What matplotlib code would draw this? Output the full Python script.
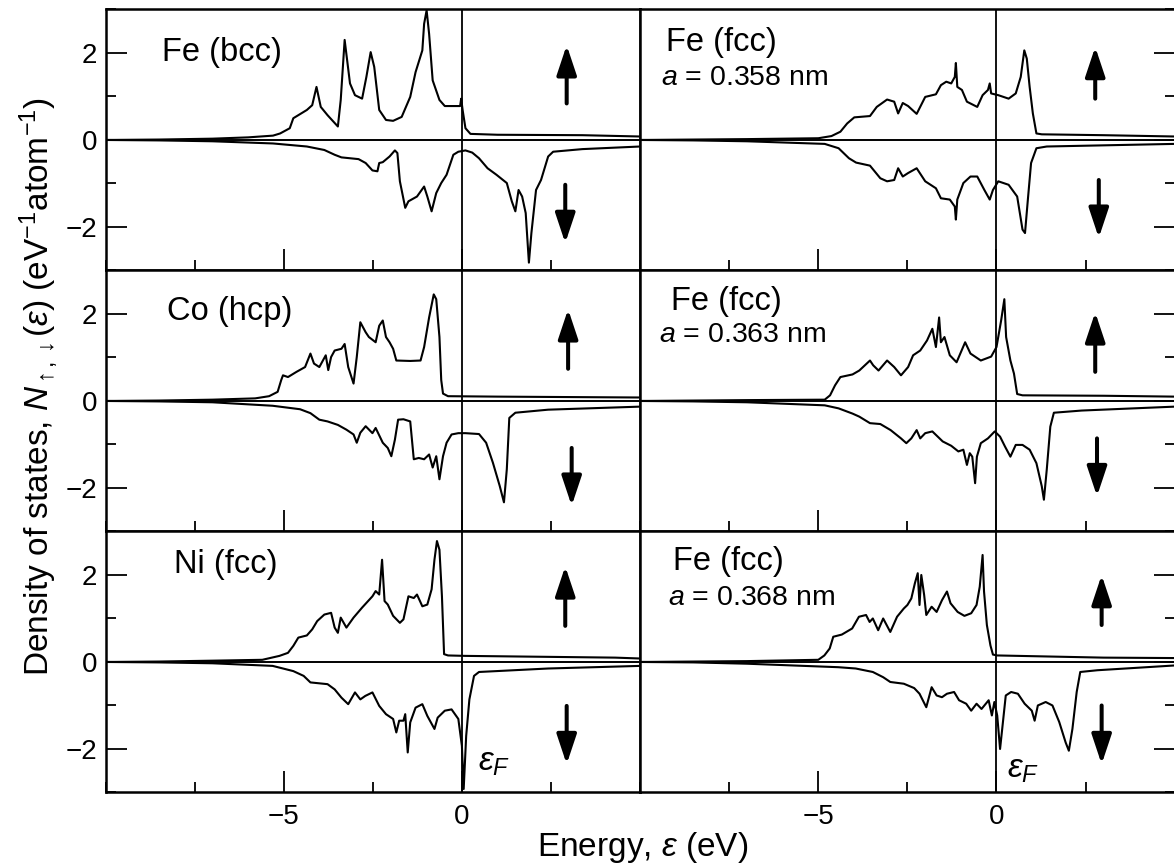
import matplotlib
matplotlib.use("Agg")
import matplotlib.pyplot as plt
from matplotlib.patches import FancyArrowPatch
from matplotlib.ticker import MultipleLocator

plt.rcParams['font.family'] = ['Liberation Sans', 'DejaVu Sans']
plt.rcParams['mathtext.fontset'] = 'custom'
plt.rcParams['mathtext.rm'] = 'Liberation Sans'
plt.rcParams['mathtext.it'] = 'Liberation Sans:italic'
plt.rcParams['mathtext.bf'] = 'Liberation Sans:bold'

# ---------------- data (energy in eV, DOS in states/eV/atom) ----------------
fe_bcc_up_e = [-10, -8.5, -7.0, -6.0, -5.3, -5.1, -4.83, -4.73, -4.35, -4.2, -4.08, -3.96, -3.77, -3.48, -3.4, -3.29,
               -3.14, -3.0, -2.8, -2.68, -2.56, -2.46, -2.32, -2.13, -1.93, -1.69, -1.45, -1.3, -1.11, -1.06, -0.99,
               -0.92, -0.82, -0.63, -0.48, -0.05, -0.02, 0.02, 0.1, 0.24, 1.0, 3.38, 5.0]
fe_bcc_up_n = [0.0, 0.01, 0.03, 0.06, 0.1, 0.15, 0.27, 0.5, 0.69, 0.8, 1.22, 0.76, 0.57, 0.31, 0.92, 2.3,
               1.3, 1.03, 0.95, 1.45, 2.02, 1.68, 0.69, 0.46, 0.44, 0.53, 0.99, 1.56, 2.06, 2.67, 2.98,
               2.44, 1.37, 0.92, 0.78, 0.78, 0.95, 0.69, 0.27, 0.14, 0.12, 0.11, 0.08]
fe_bcc_dn_e = [-10, -8.5, -7, -5.3, -4.35, -3.86, -3.57, -3.38, -2.9, -2.7, -2.51, -2.37, -2.32, -2.22, -2.03, -1.88,
               -1.81, -1.74, -1.59, -1.5, -1.26, -1.06, -0.97, -0.85, -0.72, -0.58, -0.43, -0.24, -0.1, 0.1, 0.29,
               0.48, 0.72, 0.97, 1.26, 1.4, 1.5, 1.59, 1.69, 1.79, 1.88, 1.95, 2.08, 2.22, 2.42, 2.56, 3.38, 5.0]
fe_bcc_dn_n = [0, -0.01, -0.03, -0.08, -0.15, -0.23, -0.34, -0.4, -0.44, -0.53, -0.7, -0.72, -0.53, -0.51, -0.38, -0.24,
               -0.3, -0.95, -1.56, -1.41, -1.3, -1.07, -1.3, -1.64, -1.22, -0.99, -0.8, -0.34, -0.27, -0.24, -0.29,
               -0.42, -0.65, -0.8, -0.99, -1.41, -1.64, -1.15, -1.3, -1.68, -2.82, -2.14, -1.15, -0.92, -0.38, -0.27,
               -0.21, -0.15]

fe358_up_e = [-10, -8.5, -7, -5.0, -4.63, -4.38, -4.19, -3.99, -3.55, -3.36, -3.07, -2.87, -2.76, -2.63, -2.48, -2.24,
              -2.0, -1.7, -1.56, -1.41, -1.27, -1.17, -1.14, -1.1, -0.97, -0.83, -0.54, -0.39, -0.24, -0.19, -0.15,
              0.05, 0.34, 0.54, 0.68, 0.78, 0.85, 0.93, 1.02, 1.12, 1.27, 3.0, 5.0]
fe358_up_n = [0, 0.01, 0.02, 0.04, 0.09, 0.19, 0.38, 0.52, 0.55, 0.76, 0.93, 0.88, 0.61, 0.85, 0.78, 0.6,
              0.99, 1.05, 1.26, 1.34, 1.3, 1.45, 1.77, 1.22, 1.15, 0.88, 0.76, 1.03, 1.15, 1.3, 1.07,
              1.03, 0.95, 1.07, 1.45, 2.06, 1.87, 1.22, 0.61, 0.15, 0.13, 0.11, 0.08]
fe358_dn_e = [-10, -8.5, -7, -4.82, -4.43, -4.14, -3.94, -3.55, -3.26, -3.07, -2.87, -2.76, -2.63, -2.48, -2.24, -2.0,
              -1.7, -1.56, -1.31, -1.17, -1.14, -1.1, -0.93, -0.73, -0.54, -0.34, -0.19, -0.1, 0.05, 0.34, 0.58,
              0.73, 0.8, 0.88, 0.97, 1.12, 1.41, 5.0]
fe358_dn_n = [0, -0.01, -0.03, -0.09, -0.19, -0.42, -0.52, -0.59, -0.88, -0.95, -0.92, -0.65, -0.84, -0.76, -0.65, -0.95,
              -1.11, -1.34, -1.37, -1.53, -1.83, -1.37, -0.99, -0.84, -0.84, -1.15, -1.37, -1.15, -0.95, -1.03, -1.3,
              -2.06, -2.14, -1.37, -0.53, -0.19, -0.15, -0.09]

co_up_e = [-10, -8.5, -7, -5.8, -5.41, -5.17, -5.07, -5.02, -4.88, -4.64, -4.4, -4.25, -4.15, -4.0, -3.9, -3.82,
           -3.75, -3.67, -3.57, -3.38, -3.29, -3.19, -3.04, -2.95, -2.85, -2.7, -2.61, -2.42, -2.32, -2.22, -2.13,
           -2.03, -1.93, -1.84, -1.45, -1.16, -1.06, -0.92, -0.79, -0.72, -0.63, -0.58, -0.53, -0.39, 1.0, 5.0]
co_up_n = [0, 0.01, 0.03, 0.06, 0.11, 0.21, 0.48, 0.59, 0.55, 0.67, 0.78, 1.09, 0.86, 0.78, 0.93, 1.05,
           0.71, 1.01, 1.16, 1.2, 1.31, 0.78, 0.4, 1.01, 1.81, 1.58, 1.47, 1.35, 1.73, 1.85, 1.47,
           1.35, 1.2, 0.93, 0.92, 0.93, 1.24, 1.92, 2.45, 2.34, 1.47, 0.48, 0.17, 0.11, 0.1, 0.08]
co_dn_e = [-10, -8.5, -7, -5.31, -4.54, -4.25, -4.0, -3.77, -3.48, -3.24, -3.04, -2.95, -2.85, -2.7, -2.51, -2.42,
           -2.22, -2.08, -1.98, -1.88, -1.79, -1.64, -1.45, -1.35, -1.21, -1.06, -0.92, -0.82, -0.72, -0.63, -0.53,
           -0.43, -0.29, -0.1, 0.1, 0.48, 0.68, 0.87, 1.06, 1.18, 1.26, 1.33, 1.5, 2.42, 5.0]
co_dn_n = [0, -0.01, -0.03, -0.11, -0.19, -0.28, -0.43, -0.47, -0.55, -0.66, -0.77, -0.96, -0.73, -0.58, -0.74, -0.62,
           -0.96, -1.08, -1.27, -0.89, -0.43, -0.42, -0.47, -1.34, -1.31, -1.34, -1.23, -1.53, -1.27, -1.8, -1.27,
           -0.96, -0.77, -0.74, -0.74, -0.76, -0.96, -1.42, -1.95, -2.33, -1.57, -0.39, -0.27, -0.2, -0.13]

fe363_up_e = [-10, -8.5, -7, -4.82, -4.67, -4.53, -4.38, -4.04, -3.85, -3.55, -3.46, -3.31, -3.07, -2.87, -2.68, -2.48,
              -2.34, -2.14, -1.95, -1.8, -1.7, -1.61, -1.56, -1.46, -1.31, -1.12, -0.88, -0.73, -0.44, -0.15, 0.0,
              0.13, 0.22, 0.27, 0.39, 0.49, 0.58, 0.73, 3.0, 5.0]
fe363_up_n = [0, 0.01, 0.02, 0.03, 0.13, 0.36, 0.55, 0.61, 0.7, 0.93, 0.82, 0.7, 0.93, 0.78, 0.59, 0.78,
              1.05, 1.16, 1.39, 1.66, 1.24, 1.92, 1.35, 1.47, 1.05, 0.89, 1.35, 1.09, 0.93, 1.02, 1.24,
              1.85, 2.34, 1.47, 0.93, 0.63, 0.16, 0.13, 0.12, 0.1]
fe363_dn_e = [-10, -8.5, -7, -4.82, -4.43, -4.04, -3.85, -3.55, -3.26, -2.97, -2.68, -2.53, -2.39, -2.24, -2.14, -2.0,
              -1.8, -1.51, -1.27, -1.07, -0.93, -0.83, -0.75, -0.68, -0.6, -0.55, -0.44, -0.24, -0.05, 0.1, 0.24,
              0.39, 0.54, 0.73, 0.93, 1.12, 1.27, 1.33, 1.41, 1.51, 1.61, 2.39, 5.0]
fe363_dn_n = [0, -0.01, -0.03, -0.1, -0.17, -0.29, -0.36, -0.51, -0.53, -0.67, -0.86, -0.97, -0.86, -0.67, -0.86, -0.74,
              -0.7, -0.93, -1.03, -1.16, -1.12, -1.47, -1.2, -1.28, -1.89, -1.28, -0.97, -0.86, -0.7, -0.82, -1.05,
              -1.28, -1.01, -1.01, -1.12, -1.43, -1.96, -2.27, -1.58, -0.59, -0.27, -0.22, -0.13]

ni_up_e = [-10, -8.5, -7, -5.6, -5.12, -4.88, -4.73, -4.59, -4.35, -4.2, -4.06, -3.86, -3.67, -3.57, -3.48, -3.4,
           -3.24, -3.04, -2.8, -2.51, -2.42, -2.32, -2.24, -2.17, -2.08, -1.93, -1.74, -1.64, -1.5, -1.35, -1.26,
           -1.11, -0.97, -0.85, -0.77, -0.7, -0.63, -0.56, -0.5, -0.39, 0.1, 4.3, 5.0]
ni_up_n = [0, 0.01, 0.03, 0.05, 0.14, 0.21, 0.37, 0.56, 0.61, 0.75, 0.94, 1.09, 1.13, 0.79, 0.67, 1.02,
           0.79, 1.02, 1.25, 1.51, 1.63, 1.55, 2.35, 1.4, 1.32, 1.06, 0.9, 0.98, 1.51, 1.47, 1.55,
           1.28, 1.32, 1.67, 2.35, 2.78, 2.58, 1.51, 0.18, 0.15, 0.14, 0.1, 0.08]
ni_dn_e = [-10, -8.5, -7, -5.31, -4.73, -4.44, -4.25, -3.77, -3.57, -3.38, -3.19, -3.0, -2.85, -2.71, -2.51, -2.32,
           -2.13, -1.93, -1.84, -1.76, -1.64, -1.59, -1.52, -1.45, -1.3, -1.11, -0.97, -0.87, -0.77, -0.68, -0.48,
           -0.29, -0.1, 0.0, 0.05, 0.12, 0.21, 0.34, 0.48, 2.42, 5.0]
ni_dn_n = [0, -0.01, -0.03, -0.09, -0.21, -0.32, -0.47, -0.51, -0.63, -0.82, -0.97, -0.7, -0.86, -0.78, -0.7, -1.01,
           -1.2, -1.31, -1.62, -1.35, -1.35, -1.2, -2.08, -1.39, -1.05, -0.97, -1.24, -1.39, -1.54, -1.28, -1.12,
           -1.09, -1.31, -1.93, -2.92, -1.7, -0.86, -0.32, -0.23, -0.15, -0.09]

fe368_up_e = [-10, -8.5, -7, -5.0, -4.83, -4.68, -4.58, -4.34, -4.05, -3.86, -3.66, -3.56, -3.47, -3.32, -3.18, -2.98,
              -2.79, -2.6, -2.5, -2.39, -2.29, -2.21, -2.16, -2.11, -2.03, -1.97, -1.82, -1.68, -1.53, -1.39, -1.29,
              -1.09, -0.9, -0.71, -0.56, -0.47, -0.39, -0.35, -0.27, -0.17, -0.1, 0.02, 3.0, 5.0]
fe368_up_n = [0, 0.01, 0.02, 0.05, 0.15, 0.31, 0.58, 0.63, 0.77, 1.04, 1.08, 0.92, 1.0, 0.73, 1.0, 0.69,
              1.04, 1.23, 1.31, 1.46, 1.81, 2.04, 1.31, 2.0, 1.54, 1.08, 1.27, 1.15, 1.42, 1.62, 1.35,
              1.15, 1.06, 1.12, 1.31, 1.73, 2.46, 1.62, 0.85, 0.38, 0.17, 0.15, 0.1, 0.09]
fe368_dn_e = [-10, -8.5, -7, -4.44, -3.95, -3.47, -3.18, -2.98, -2.6, -2.31, -2.16, -1.97, -1.82, -1.68, -1.53, -1.39,
              -1.19, -1.05, -0.85, -0.71, -0.56, -0.42, -0.22, -0.13, -0.06, 0.02, 0.1, 0.16, 0.26, 0.41, 0.6,
              0.79, 0.99, 1.07, 1.16, 1.38, 1.57, 1.76, 1.94, 2.03, 2.13, 2.25, 2.35, 2.83, 5.0]
fe368_dn_n = [0, -0.01, -0.04, -0.12, -0.15, -0.23, -0.35, -0.46, -0.5, -0.6, -0.73, -1.04, -0.58, -0.77, -0.81, -0.73,
              -0.69, -0.88, -0.96, -1.12, -0.96, -1.08, -0.88, -1.23, -0.92, -1.23, -2.0, -1.54, -0.77, -0.69, -0.73,
              -0.96, -1.12, -1.35, -1.0, -0.92, -1.0, -1.38, -1.85, -2.04, -1.54, -0.69, -0.23, -0.19, -0.08]

panel_titles = ["Fe (bcc)", "Fe (fcc)", "Co (hcp)", "Fe (fcc)", "Ni (fcc)", "Fe (fcc)"]
panel_subtitles = [None, "$a$ = 0.358 nm", None, "$a$ = 0.363 nm", None, "$a$ = 0.368 nm"]
x_ticks = [-5, 0]
x_tick_labels = ["\u22125", "0"]
y_ticks = [-2, 0, 2]
y_tick_labels = ["\u22122", "0", "2"]

curves = [
    (fe_bcc_up_e, fe_bcc_up_n, fe_bcc_dn_e, fe_bcc_dn_n),
    (fe358_up_e, fe358_up_n, fe358_dn_e, fe358_dn_n),
    (co_up_e, co_up_n, co_dn_e, co_dn_n),
    (fe363_up_e, fe363_up_n, fe363_dn_e, fe363_dn_n),
    (ni_up_e, ni_up_n, ni_dn_e, ni_dn_n),
    (fe368_up_e, fe368_up_n, fe368_dn_e, fe368_dn_n),
]

# label / arrow placement (x in eV, y in DOS units)
title_pos = [(-8.42, 2.0), (-9.27, 2.23), (-8.28, 2.05), (-9.12, 2.28), (-8.08, 2.23), (-9.07, 2.3)]
sub_pos = [None, (-9.42, 1.42), None, (-9.46, 1.52), None, (-9.22, 1.47)]
up_arrows = [(2.94, 0.84, 2.18), (2.77, 0.95, 2.14), (2.98, 0.74, 2.11),
             (2.77, 0.67, 2.04), (2.90, 0.83, 2.20), (2.95, 0.85, 2.00)]
dn_arrows = [(2.90, -1.03, -2.37), (2.87, -0.92, -2.25), (3.08, -1.08, -2.41),
             (2.82, -0.86, -2.19), (2.94, -1.01, -2.35), (2.95, -1.00, -2.35)]
ef_pos = {4: (0.45, -2.32), 5: (0.30, -2.48)}

# ---------------- figure ----------------
fig = plt.figure(figsize=(11.74, 8.66), dpi=100)
L = 105.5 / 1174
W = 534.6 / 1174
B = 0.0849
H = 261 / 866
ARROW = '-|>,head_length=1.8,head_width=0.6'

for i in range(6):
    row, col = divmod(i, 2)
    left = L if col == 0 else L + W
    bottom = B + (2 - row) * H
    ax = fig.add_axes([left, bottom, W, H])
    ue, un, de, dn = curves[i]
    ax.plot(ue, un, color='black', lw=1.5, solid_joinstyle='round')
    ax.plot(de, dn, color='black', lw=1.5, solid_joinstyle='round')
    ax.axhline(0, color='black', lw=1.4)
    ax.axvline(0, color='black', lw=1.3)
    ax.set_xlim(-10, 5)
    ax.set_ylim(-3, 3)
    for s in ax.spines.values():
        s.set_linewidth(1.8)

    ax.set_xticks(x_ticks)
    ax.xaxis.set_minor_locator(MultipleLocator(2.5))
    ax.set_yticks(y_ticks)
    ax.yaxis.set_minor_locator(MultipleLocator(1.0))
    ax.tick_params(which='major', direction='in', length=15, width=1.3, labelsize=20)
    ax.tick_params(which='minor', direction='in', length=7, width=1.3)
    ax.tick_params(axis='x', which='both', top=False, bottom=True, pad=8)
    if col == 0:
        ax.tick_params(axis='y', which='both', left=True, right=False, labelleft=True, pad=6)
        ax.set_yticklabels(y_tick_labels)
    else:
        ax.tick_params(axis='y', which='both', left=False, right=True, labelleft=False, labelright=False)
    if row == 2:
        ax.set_xticklabels(x_tick_labels)
    else:
        ax.tick_params(axis='x', labelbottom=False)

    tx, ty = title_pos[i]
    ax.text(tx, ty, panel_titles[i], fontsize=23.5, ha='left', va='center')
    if panel_subtitles[i]:
        sx, sy = sub_pos[i]
        ax.text(sx, sy, panel_subtitles[i], fontsize=20.5, ha='left', va='center')

    ax_, y0, y1 = up_arrows[i]
    ax.add_patch(FancyArrowPatch((ax_, y0), (ax_, y1), arrowstyle=ARROW,
                                 mutation_scale=10, lw=2.9, color='black', shrinkA=0, shrinkB=0))
    dx_, d0, d1 = dn_arrows[i]
    ax.add_patch(FancyArrowPatch((dx_, d0), (dx_, d1), arrowstyle=ARROW,
                                 mutation_scale=10, lw=2.9, color='black', shrinkA=0, shrinkB=0))
    if i in ef_pos:
        ex, ey = ef_pos[i]
        ax.text(ex, ey, r"$\varepsilon_F$", fontsize=24, ha='left', va='center')

fig.text(0.547, 0.021, r"Energy, $\varepsilon$ (eV)", fontsize=24, ha='center', va='center')
fig.text(0.033, 0.553, r"Density of states, $N_{\uparrow,\downarrow}(\varepsilon)$ (eV$^{-1}$atom$^{-1}$)",
         fontsize=24, rotation=90, ha='center', va='center')

fig.savefig("out.png", dpi=100)
